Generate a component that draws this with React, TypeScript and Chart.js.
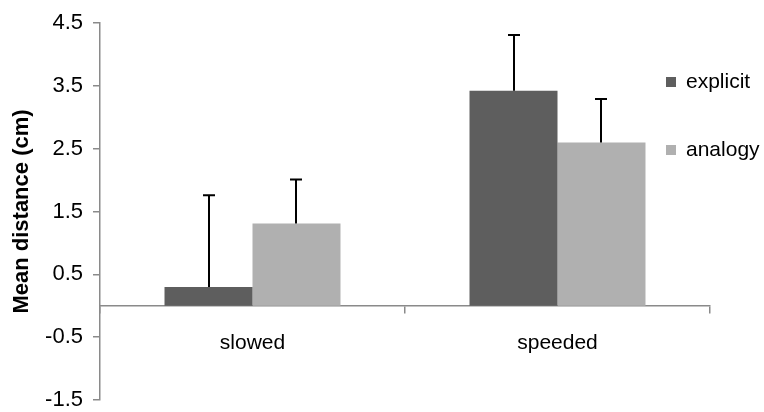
import React, { useEffect, useRef } from "react";
import { Chart, registerables } from "chart.js";

Chart.register(...registerables);

const categories = ["slowed", "speeded"];
const seriesNames = ["explicit", "analogy"];
const explicitValues = [0.3, 3.42];
const analogyValues = [1.31, 2.6];
const explicitErrors = [1.46, 0.89];
const analogyErrors = [0.7, 0.69];
const yMin = -1.5;
const yMax = 4.5;
const yStep = 1;

const FONT = "'Liberation Sans', Arial, Helvetica, sans-serif";
const AXIS_COLOR = "#8a8a8a";
const DARK = "#5e5e5e";
const LIGHT = "#b0b0b0";

const errorBarPlugin = {
  id: "errorBars",
  afterDatasetsDraw(chart: any) {
    const ctx = chart.ctx;
    const yScale = chart.scales.y;
    ctx.save();
    ctx.strokeStyle = "#000";
    ctx.lineWidth = 2;
    chart.data.datasets.forEach((ds: any, i: number) => {
      const meta = chart.getDatasetMeta(i);
      meta.data.forEach((el: any, j: number) => {
        const v = ds.data[j];
        const e = ds.errors[j];
        const x = Math.round(el.x);
        const yTop = yScale.getPixelForValue(v + e);
        const yBase = yScale.getPixelForValue(v);
        ctx.beginPath();
        ctx.moveTo(x, yBase);
        ctx.lineTo(x, yTop);
        ctx.moveTo(x - 6, yTop);
        ctx.lineTo(x + 6, yTop);
        ctx.stroke();
      });
    });
    ctx.restore();
  },
};

const legendPlugin = {
  id: "sideLegend",
  afterDraw(chart: any) {
    const ctx = chart.ctx;
    const area = chart.chartArea;
    ctx.save();
    ctx.font = `21px ${FONT}`;
    ctx.textBaseline = "middle";
    ctx.textAlign = "left";
    chart.data.datasets.forEach((ds: any, i: number) => {
      const bx = area.right - 44;
      const cy = area.top + 59 + i * 68;
      ctx.fillStyle = ds.backgroundColor;
      ctx.fillRect(bx, cy - 5, 10, 10);
      ctx.fillStyle = "#000";
      ctx.fillText(ds.label, bx + 20, cy);
    });
    ctx.restore();
  },
};

export default function App() {
  const ref = useRef<HTMLCanvasElement | null>(null);
  useEffect(() => {
    if (!ref.current) return;
    const chart = new Chart(ref.current, {
      type: "bar",
      data: {
        labels: categories,
        datasets: [
          {
            label: seriesNames[0],
            data: explicitValues,
            errors: explicitErrors,
            backgroundColor: DARK,
            categoryPercentage: 0.577,
            barPercentage: 1,
          } as any,
          {
            label: seriesNames[1],
            data: analogyValues,
            errors: analogyErrors,
            backgroundColor: LIGHT,
            categoryPercentage: 0.577,
            barPercentage: 1,
          } as any,
        ],
      },
      options: {
        animation: false,
        responsive: true,
        maintainAspectRatio: false,
        layout: { padding: { top: 23, right: 54, bottom: 12, left: 0 } },
        plugins: { legend: { display: false }, tooltip: { enabled: false } },
        scales: {
          x: {
            position: { y: 0 } as any,
            grid: {
              display: true,
              drawOnChartArea: false,
              drawTicks: true,
              tickLength: 7,
              color: AXIS_COLOR,
              lineWidth: 1.5,
              offset: true,
            },
            border: { display: true, color: AXIS_COLOR, width: 1.5 },
            ticks: { color: "#000", font: { family: FONT, size: 21 }, padding: 18 },
          },
          y: {
            min: yMin,
            max: yMax,
            afterFit: (s: any) => {
              s.width = 100;
              s.paddingTop = 0;
              s.paddingBottom = 0;
            },
            grid: {
              drawOnChartArea: false,
              drawTicks: true,
              tickLength: 7,
              color: AXIS_COLOR,
              lineWidth: 1.5,
            },
            border: { display: true, color: AXIS_COLOR, width: 1.5 },
            ticks: {
              stepSize: yStep,
              color: "#000",
              font: { family: FONT, size: 22 },
              padding: 10,
              callback: (v: any) => Number(v).toFixed(1),
            },
            title: {
              display: true,
              text: "Mean distance (cm)",
              color: "#000",
              font: { family: FONT, size: 22, weight: "bold" },
              padding: { top: 9, bottom: 0 },
            },
          },
        },
      },
      plugins: [errorBarPlugin, legendPlugin],
    });
    return () => chart.destroy();
  }, []);
  return (
    <div style={{ position: "absolute", left: 0, top: 0, width: 764, height: 412 }}>
      <canvas ref={ref} />
    </div>
  );
}
